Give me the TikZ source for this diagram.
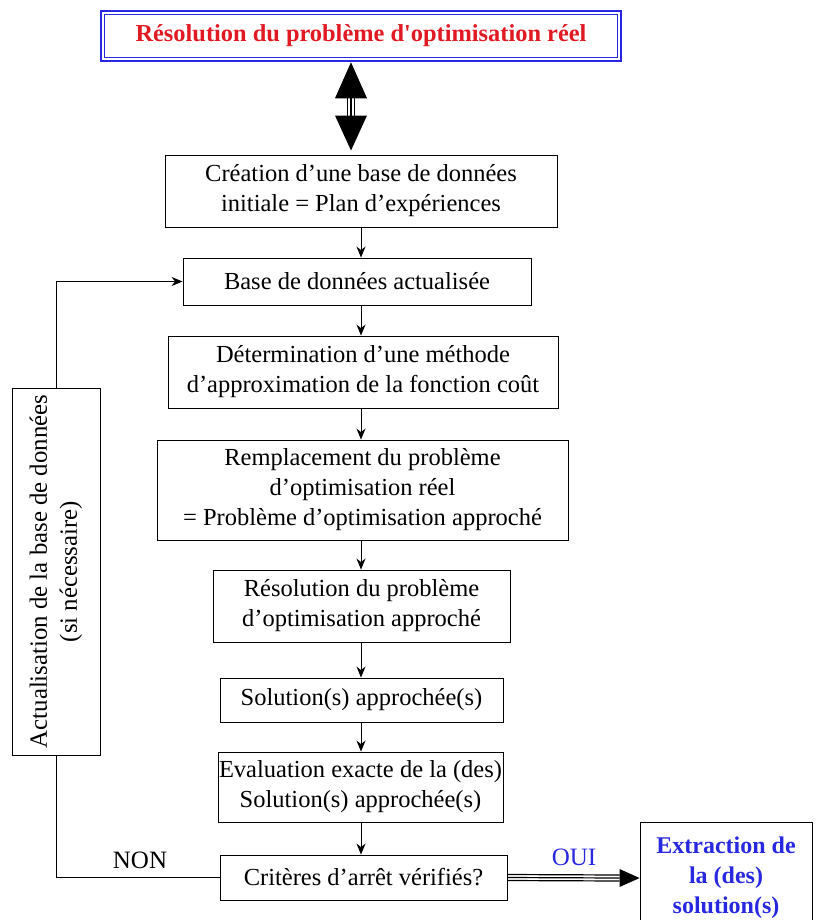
\documentclass[tikz,border=0pt]{standalone}
\usepackage{fontspec}
\setmainfont{Liberation Serif}
\usetikzlibrary{calc,arrows.meta}
\definecolor{titred}{RGB}{225,25,35}
\definecolor{titblue}{RGB}{40,40,225}
\begin{document}
\begin{tikzpicture}[x=1pt,y=-1pt,
  stepbox/.style={draw, line width=0.9pt, align=center, inner sep=0pt,
    font=\fontsize{24.5}{30}\selectfont},
  flow/.style={-{Stealth[length=11pt,width=9pt]}, line width=0.9pt},
  conn/.style={line width=0.9pt}]
\useasboundingbox (0,0) rectangle (816,920);
\clip (0,0) rectangle (816,920);

% title: thick outer frame with a thin inner frame
\node[draw=titblue, line width=2.6pt,
  minimum width=520, minimum height=50, inner sep=0pt,
  text=titred, font=\fontsize{24.4}{28}\selectfont\bfseries] (top) at (361,36)
  {Résolution du problème d\textquotesingle optimisation réel};
\draw[titblue, line width=1.1pt] ($(top.north west)+(4.5,4.5)$) rectangle ($(top.south east)+(-4.5,-4.5)$);

% main chain
\node[stepbox, minimum width=392, minimum height=72] (b1) at (361,191)
  {Création d’une base de données\\initiale = Plan d’expériences};
\node[stepbox, minimum width=348, minimum height=47] (b2) at (357,281.5)
  {Base de données actualisée};
\node[stepbox, minimum width=390, minimum height=72] (b3) at (363,372)
  {Détermination d’une méthode\\d’approximation de la fonction coût};
\node[stepbox, minimum width=411, minimum height=100] (b4) at (362.5,490)
  {Remplacement du problème\\d’optimisation réel\\= Problème d’optimisation approché};
\node[stepbox, minimum width=297, minimum height=72] (b5) at (361.5,606)
  {Résolution du problème\\d’optimisation approché};
\node[stepbox, minimum width=283, minimum height=44] (b6) at (361.5,700)
  {Solution(s) approchée(s)};
\node[stepbox, minimum width=285, minimum height=70] (b7) at (360.5,787)
  {Evaluation exacte de la (des)\\Solution(s) approchée(s)};
\node[stepbox, minimum width=287, minimum height=45] (b8) at (363.5,877.5)
  {Critères d’arrêt vérifiés?};

% side boxes
\node[stepbox, rotate=90, minimum width=367, minimum height=88,
  font=\fontsize{24.8}{30}\selectfont] (upd) at (56,571.5)
  {Actualisation de la base de données\\(si nécessaire)};
\node[draw, line width=0.9pt, minimum width=172, minimum height=112, inner sep=0pt,
  align=center, text=titblue, font=\fontsize{24}{30}\selectfont\bfseries] (ext) at (726,878)
  {Extraction de\\la (des)\\solution(s)};

% big two-way arrow between the title and the first step
\coordinate (ua) at ($(top.south)+(-10,0)$);
\coordinate (da) at ($(b1.north)+(-10,-4)$);
\fill ($(ua)$) -- ($(ua)+(16,36)$) -- ($(ua)+(-16,36)$) -- cycle;
\fill ($(da)$) -- ($(da)+(16,-35)$) -- ($(da)+(-16,-35)$) -- cycle;
\foreach \dx in {-3.5,0,3.5}
  \draw[line width=1.3pt] ($(ua)+(\dx,36)$) -- ($(da)+(\dx,-35)$);

% vertical flow arrows
\draw[flow] (b1.south) -- (b1.south |- b2.north);
\draw[flow] (b1.south |- b2.south) -- (b1.south |- b3.north);
\draw[flow] (b1.south |- b3.south) -- (b1.south |- b4.north);
\draw[flow] (b1.south |- b4.south) -- (b1.south |- b5.north);
\draw[flow] (b1.south |- b5.south) -- (b1.south |- b6.north);
\draw[flow] (b1.south |- b6.south) -- (b1.south |- b7.north);
\draw[flow] (b1.south |- b7.south) -- (b1.south |- b8.north);

% feedback loop (NON)
\draw[conn] (b8.west) -| (upd.west);
\draw[flow] (upd.east) |- (b2.west);
\node[font=\fontsize{25}{28}\selectfont] (non) at (140,860) {NON};

% exit (OUI)
\coordinate (oe) at ($(ext.west)+(-20,0)$);
\foreach \dy in {-3,0,3}
  \draw[line width=1.2pt] ($(b8.east)+(0,\dy)$) -- ($(oe)+(0,\dy)$);
\fill (ext.west) -- ($(oe)+(0,-9)$) -- ($(oe)+(0,9)$) -- cycle;
\node[text=titblue, font=\fontsize{25}{28}\selectfont] (oui) at (574,857) {OUI};
\end{tikzpicture}
\end{document}
